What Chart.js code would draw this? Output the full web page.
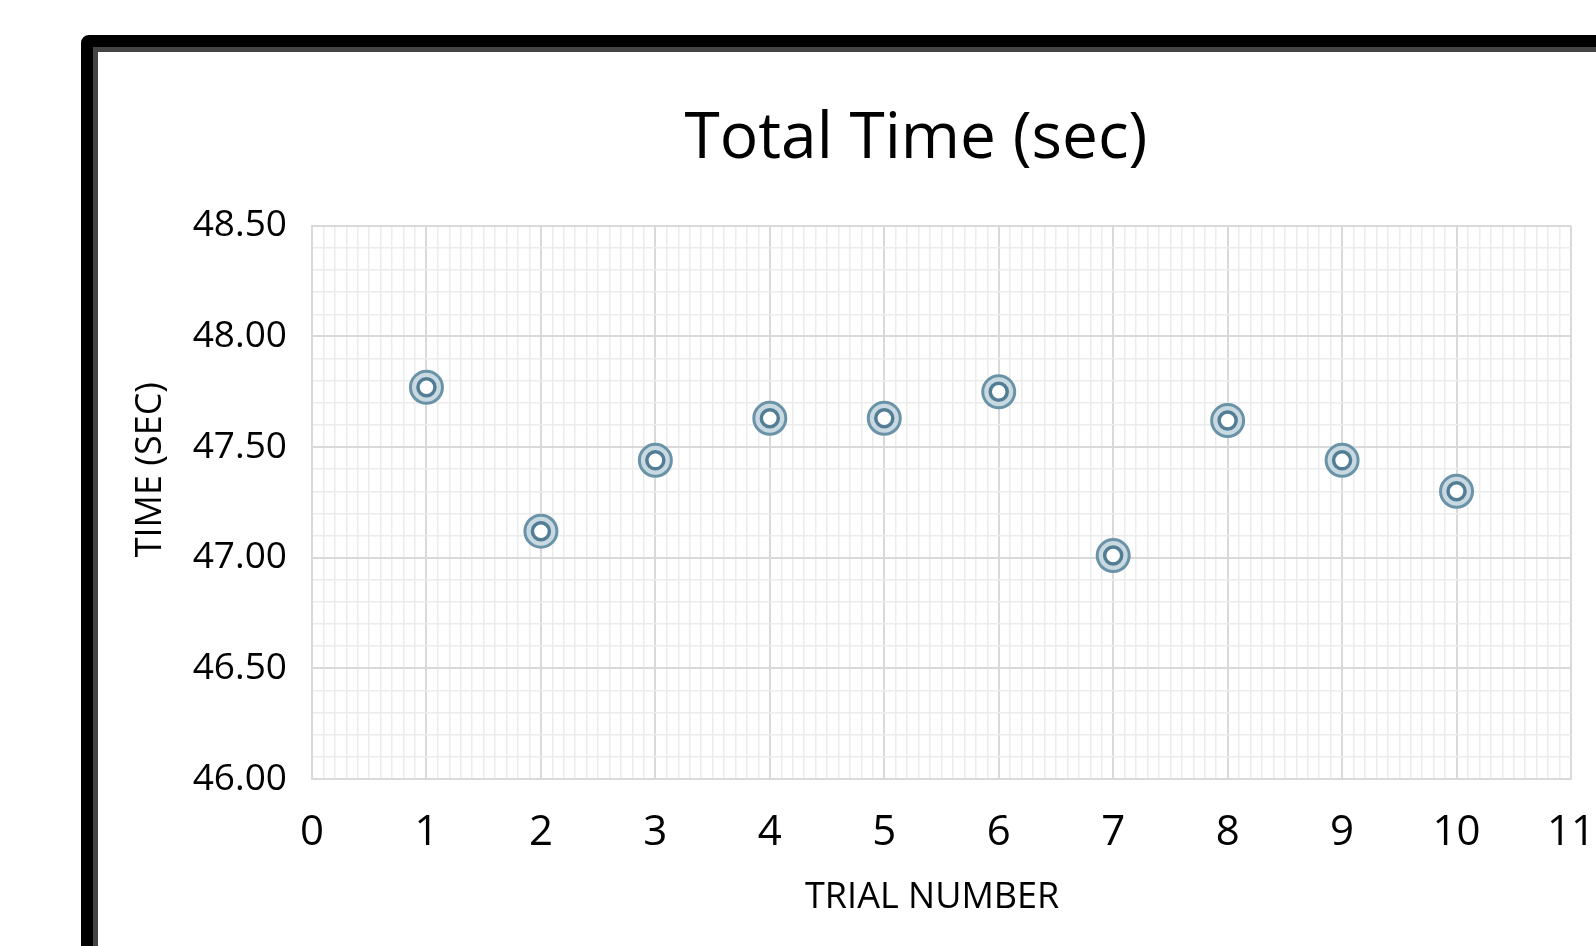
<!DOCTYPE html>
<html>
<head>
<meta charset="utf-8">
<script src="https://cdn.jsdelivr.net/npm/chart.js@4.4.1/dist/chart.umd.min.js"></script>
<style>
  html, body { margin: 0; padding: 0; background: #fff; overflow: hidden; width: 1596px; height: 946px; }
  #frame { position: absolute; left: 81px; top: 35px; width: 2000px; height: 2000px;
           border: 12px solid #000; border-radius: 8px; box-sizing: border-box; }
  #frame .inner { width: 100%; height: 100%; border-top: 5px solid #444; border-left: 5px solid #444; box-sizing: border-box; }
  #grafico { position: absolute; left: 0; top: 0; }
</style>
</head>
<body>
<div id="frame"><div class="inner"></div></div>
<canvas id="grafico" width="1732" height="946"></canvas>
<script>
// dados
const trials = [1, 2, 3, 4, 5, 6, 7, 8, 9, 10];
const times = [47.77, 47.12, 47.44, 47.63, 47.63, 47.75, 47.01, 47.62, 47.44, 47.30];
const xTickValues = [0, 1, 2, 3, 4, 5, 6, 7, 8, 9, 10, 11];
const xTickLabels = ["0", "1", "2", "3", "4", "5", "6", "7", "8", "9", "10", "11"];
const yTickValues = [46, 46.5, 47, 47.5, 48, 48.5];
const yTickLabels = ["46.00", "46.50", "47.00", "47.50", "48.00", "48.50"];

const pontos = trials.map((t, i) => ({ x: t, y: times[i] }));

function achaMajor(valores, v) {
  return valores.findIndex((m) => Math.abs(m - v) < 1e-6);
}

const corMajor = "#d9d9d9";
const corMinor = "#ececec";
const fonte = "'Open Sans', 'Noto Sans', sans-serif";

const ctx = document.getElementById("grafico").getContext("2d");
const myChart = new Chart(ctx, {
  type: "scatter",
  data: {
    datasets: [
      {
        label: "inner",
        data: pontos,
        pointRadius: 8.5,
        pointBorderWidth: 3.5,
        pointBorderColor: "#527d94",
        pointBackgroundColor: "#ffffff",
      },
      {
        label: "outer",
        data: pontos,
        pointRadius: 16,
        pointBorderWidth: 3,
        pointBorderColor: "#6b93a7",
        pointBackgroundColor: "#c8d9e1",
      },
    ],
  },
  options: {
    responsive: false,
    animation: false,
    layout: { padding: { left: 100, right: 0, top: 0, bottom: 0 } },
    plugins: {
      legend: { display: false },
      tooltip: { enabled: false },
      title: {
        display: true,
        text: "Total Time (sec)",
        color: "#000",
        font: { family: fonte, size: 64, weight: "normal" },
        padding: { top: 101, bottom: 48 },
      },
    },
    scales: {
      x: {
        type: "linear",
        position: "bottom",
        min: 0,
        max: 11,
        afterFit: (s) => { s.height = 167; },
        ticks: {
          stepSize: 0.1,
          autoSkip: false,
          maxRotation: 0,
          padding: 29,
          color: "#000",
          font: { family: fonte, size: 42 },
          callback: (v) => {
            const i = achaMajor(xTickValues, v);
            return i >= 0 ? xTickLabels[i] : "";
          },
        },
        grid: {
          drawTicks: false,
          color: (c) => (achaMajor(xTickValues, c.tick.value) >= 0 ? corMajor : corMinor),
          lineWidth: (c) => (achaMajor(xTickValues, c.tick.value) >= 0 ? 2 : 1.5),
        },
        border: { display: true, color: corMajor, width: 2 },
        title: {
          display: true,
          text: "TRIAL NUMBER\u00a0\u00a0",
          color: "#000",
          font: { family: fonte, size: 36 },
          padding: { top: 0, bottom: 27 },
        },
      },
      y: {
        type: "linear",
        position: "left",
        min: 46,
        max: 48.5,
        afterFit: (s) => { s.width = 212; },
        ticks: {
          stepSize: 0.1,
          autoSkip: false,
          padding: 25,
          color: "#000",
          font: { family: fonte, size: 37 },
          callback: (v) => {
            const i = achaMajor(yTickValues, v);
            return i >= 0 ? yTickLabels[i] : "";
          },
        },
        grid: {
          drawTicks: false,
          color: (c) => (achaMajor(yTickValues, c.tick.value) >= 0 ? corMajor : corMinor),
          lineWidth: (c) => (achaMajor(yTickValues, c.tick.value) >= 0 ? 2 : 1.5),
        },
        border: { display: true, color: corMajor, width: 2 },
        title: {
          display: true,
          // espaços no início sobem o texto, como no original
          text: "\u00a0\u00a0\u00a0\u00a0\u00a0\u00a0\u00a0TIME (SEC)",
          color: "#000",
          font: { family: fonte, size: 36 },
          padding: { top: 29, bottom: 0 },
        },
      },
      // eixo vazio à direita, só para centralizar o título como no original
      yDireita: {
        type: "linear",
        position: "right",
        afterFit: (s) => { s.width = 161; },
        ticks: { display: false },
        grid: { display: false },
        border: { display: false },
      },
    },
  },
});
</script>
</body>
</html>
